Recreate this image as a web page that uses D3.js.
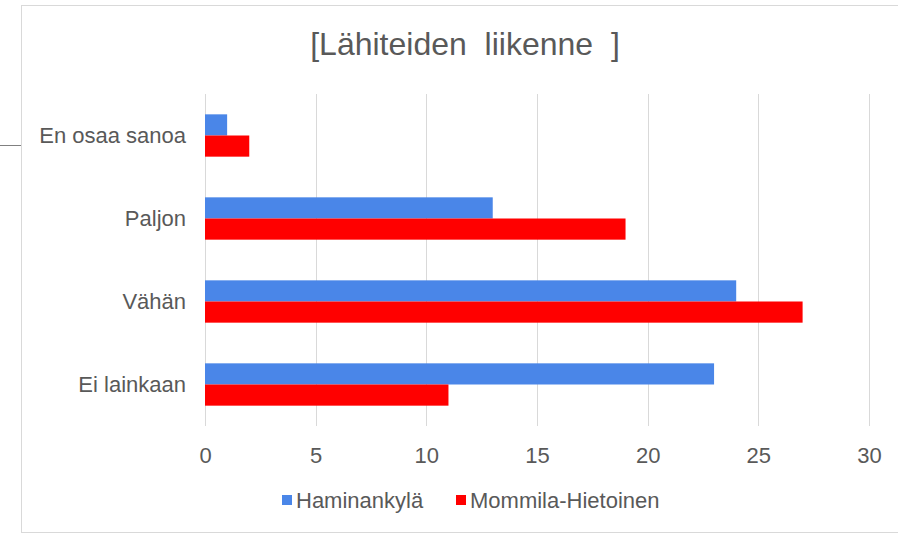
<!DOCTYPE html>
<html>
<head>
<meta charset="utf-8">
<script src="https://cdn.jsdelivr.net/npm/d3@7"></script>
<style>
  body { margin: 0; background: #fff; }
  text { font-family: "Liberation Sans", Arial, sans-serif; }
</style>
</head>
<body>
<div id="wrapper"></div>
<script>
// data
const categories = ["En osaa sanoa", "Paljon", "Vähän", "Ei lainkaan"]
const seriesNames = ["Haminankylä", "Mommila-Hietoinen"]
const haminankyla = [1, 13, 24, 23]
const mommila = [2, 19, 27, 11]
const xTicks = [0, 5, 10, 15, 20, 25, 30]
const colors = ["#4a86e8", "#ff0000"]

const dims = {
    width: 898,
    height: 535,
    margin: { top: 94, right: 29, bottom: 109, left: 205 }
}
dims.boundedWidth = dims.width - dims.margin.left - dims.margin.right
dims.boundedHeight = dims.height - dims.margin.top - dims.margin.bottom

const svg = d3.select("#wrapper").append("svg")
    .attr("width", dims.width)
    .attr("height", dims.height)

// chart frame
svg.append("rect")
    .attr("x", 21.5).attr("y", 5.5)
    .attr("width", 890).attr("height", 527)
    .attr("fill", "#fff")
    .attr("stroke", "#d9d9d9")
svg.append("line")
    .attr("x1", 0).attr("x2", 21)
    .attr("y1", 145.5).attr("y2", 145.5)
    .attr("stroke", "#808080")

// title
svg.append("text")
    .attr("x", 465).attr("y", 55)
    .attr("text-anchor", "middle")
    .style("white-space", "pre")
    .attr("fill", "#595959")
    .style("font-size", "32px")
    .text("[Lähiteiden  liikenne  ]")

const bounds = svg.append("g")
    .attr("transform", `translate(${dims.margin.left},${dims.margin.top})`)

const xScale = d3.scaleLinear()
    .domain([0, 30])
    .range([0, dims.boundedWidth])

const yScale = d3.scaleBand()
    .domain(categories)
    .range([0, dims.boundedHeight])
    .paddingInner(0.49)
    .paddingOuter(0.245)

const subScale = d3.scaleBand()
    .domain(seriesNames)
    .range([0, yScale.bandwidth()])

// gridlines
bounds.append("g")
    .selectAll("line")
    .data(xTicks)
    .join("line")
    .attr("x1", d => Math.round(xScale(d)) + 0.5)
    .attr("x2", d => Math.round(xScale(d)) + 0.5)
    .attr("y1", 0)
    .attr("y2", dims.boundedHeight)
    .attr("stroke", "#d9d9d9")

// bars
const rows = categories.map((c, i) => ({
    cat: c,
    values: [
        { name: seriesNames[0], v: haminankyla[i] },
        { name: seriesNames[1], v: mommila[i] }
    ]
}))

const groups = bounds.selectAll(".grp")
    .data(rows)
    .join("g")
    .attr("transform", d => `translate(0,${yScale(d.cat)})`)

groups.selectAll("rect")
    .data(d => d.values)
    .join("rect")
    .attr("x", xScale(0))
    .attr("y", d => subScale(d.name))
    .attr("width", d => xScale(d.v) - xScale(0))
    .attr("height", subScale.bandwidth())
    .attr("fill", (d, i) => colors[i])

// x axis
const xAxis = bounds.append("g")
    .attr("transform", `translate(0,${dims.boundedHeight})`)
    .call(d3.axisBottom(xScale).tickValues(xTicks).tickSize(0))
xAxis.select(".domain").remove()
xAxis.selectAll("text")
    .attr("y", 37)
    .attr("dy", 0)
    .attr("fill", "#595959")
    .style("font-size", "22px")

// y axis
const yAxis = bounds.append("g")
    .call(d3.axisLeft(yScale).tickSize(0).tickPadding(19))
yAxis.select(".domain").remove()
yAxis.selectAll("text")
    .attr("dy", "0.36em")
    .attr("fill", "#595959")
    .style("font-size", "22px")

// legend
const legendItems = [
    { name: seriesNames[0], x: 282 },
    { name: seriesNames[1], x: 456 }
]
const legend = svg.append("g")
    .selectAll("g")
    .data(legendItems)
    .join("g")
    .attr("transform", d => `translate(${d.x},500)`)
legend.append("rect")
    .attr("x", 0).attr("y", -5)
    .attr("width", 10).attr("height", 10)
    .attr("fill", (d, i) => colors[i])
legend.append("text")
    .attr("x", 14).attr("y", 8)
    .attr("fill", "#595959")
    .style("font-size", "22px")
    .text(d => d.name)
</script>
</body>
</html>
